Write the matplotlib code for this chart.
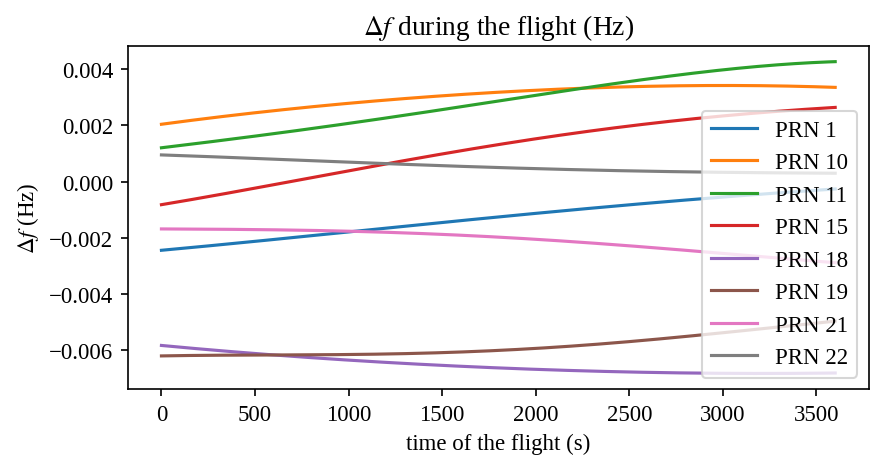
import numpy as np
import matplotlib
matplotlib.use("Agg")
import matplotlib.pyplot as plt

# time of the flight (s)
t = [0, 600, 1200, 1800, 2400, 3000, 3600]

# frequency offsets in mHz
prn_labels = ["PRN 1", "PRN 10", "PRN 11", "PRN 15", "PRN 18", "PRN 19", "PRN 21", "PRN 22"]
prn1 = [-2.44, -2.05, -1.66, -1.25, -0.88, -0.55, -0.26]
prn10 = [2.04, 2.52, 2.90, 3.18, 3.35, 3.42, 3.35]
prn11 = [1.20, 1.72, 2.25, 2.85, 3.50, 3.95, 4.27]
prn15 = [-0.82, -0.10, 0.62, 1.32, 1.90, 2.33, 2.64]
prn18 = [-5.82, -6.16, -6.42, -6.62, -6.75, -6.81, -6.80]
prn19 = [-6.19, -6.17, -6.11, -6.00, -5.75, -5.36, -4.96]
prn21 = [-1.68, -1.71, -1.80, -1.97, -2.23, -2.55, -2.88]
prn22 = [0.95, 0.80, 0.64, 0.50, 0.40, 0.33, 0.30]


def smooth(x, y, n=200):
    # low order polynomial through the read points, just for smooth curves
    xs = np.linspace(x[0], x[-1], n)
    c = np.polyfit(x / 3600.0, y, 4)
    return xs, np.polyval(c, xs / 3600.0)


def main():
    plt.rcParams["font.family"] = ["Liberation Serif", "DejaVu Serif"]
    plt.rcParams["mathtext.fontset"] = "stix"
    plt.rcParams["font.size"] = 11

    fig = plt.figure(figsize=(875 / 150, 466 / 150), dpi=150)
    ax = fig.add_axes([0.146, 0.163, 0.847, 0.736])

    series = [prn1, prn10, prn11, prn15, prn18, prn19, prn21, prn22]
    for lab, vals in zip(prn_labels, series):
        xs, ys = smooth(np.array(t, float), np.array(vals) * 1e-3)
        ax.plot(xs, ys, label=lab)

    ax.set_title(r"$\Delta f$ during the flight (Hz)")
    ax.set_xlabel("time of the flight (s)")
    ax.set_ylabel(r"$\Delta f$ (Hz)")
    ax.set_yticks([-0.006, -0.004, -0.002, 0.0, 0.002, 0.004])
    ax.legend(loc="lower right")

    fig.savefig("out.png", dpi=150)


if __name__ == "__main__":
    main()
